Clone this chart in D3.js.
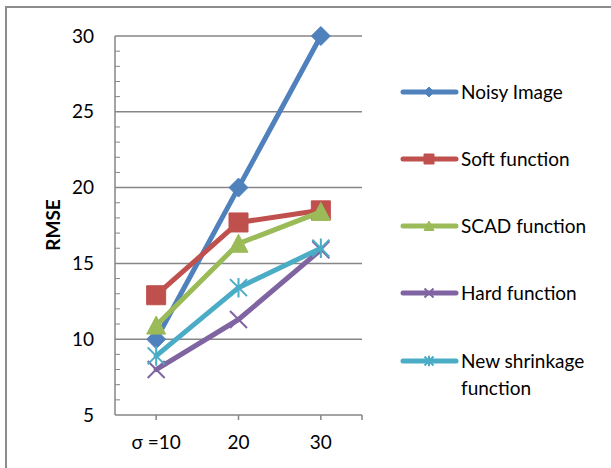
<!DOCTYPE html>
<html>
<head>
<meta charset="utf-8">
<script src="https://cdn.jsdelivr.net/npm/d3@7"></script>
<style>
  html, body { margin: 0; padding: 0; background: #fff; }
  svg { display: block; }
  text { font-family: Lato, "Open Sans", sans-serif; fill: #000; }
</style>
</head>
<body>
<svg id="chart" width="611" height="468"></svg>
<script>
// Noise levels on the x axis
const categories = ["σ =10", "20", "30"];

// RMSE per denoising method
const noisyImage = [10, 20, 30];
const softFunction = [12.9, 17.7, 18.5];
const scadFunction = [10.9, 16.3, 18.4];
const hardFunction = [8.0, 11.3, 15.9];
const newShrinkage = [8.9, 13.4, 16.0];

const seriesNames = ["Noisy Image", "Soft function", "SCAD function", "Hard function", "New shrinkage function"];
const yTicks = [5, 10, 15, 20, 25, 30];

const series = [
  { name: seriesNames[0], values: noisyImage, color: "#4F81BD", marker: "diamond" },
  { name: seriesNames[1], values: softFunction, color: "#C0504D", marker: "square" },
  { name: seriesNames[2], values: scadFunction, color: "#9BBB59", marker: "triangle" },
  { name: seriesNames[3], values: hardFunction, color: "#8064A2", marker: "x" },
  { name: seriesNames[4], values: newShrinkage, color: "#4BACC6", marker: "star" }
];

const svg = d3.select("#chart");

// Outer chart frame
svg.append("path")
  .attr("d", "M6,468 V7 H611")
  .attr("fill", "none")
  .attr("stroke", "#8c8c8c")
  .attr("stroke-width", 2);

const plot = { left: 115, right: 362, top: 36, bottom: 415 };

const x = d3.scaleBand().domain(categories).range([plot.left, plot.right]);
const y = d3.scaleLinear().domain([5, 30]).range([plot.bottom, plot.top]);

const gridColor = "#868686";

// Horizontal gridlines
svg.append("g")
  .selectAll("line")
  .data(yTicks.filter(t => t > 5))
  .join("line")
  .attr("x1", plot.left).attr("x2", plot.right)
  .attr("y1", d => y(d)).attr("y2", d => y(d))
  .attr("stroke", gridColor).attr("stroke-width", 1.5);

// Minor ticks along the y axis (every 1 unit), pointing inward
svg.append("g")
  .selectAll("line")
  .data(d3.range(6, 30).filter(v => v % 5 !== 0))
  .join("line")
  .attr("x1", plot.left).attr("x2", plot.left + 5)
  .attr("y1", d => y(d)).attr("y2", d => y(d))
  .attr("stroke", gridColor).attr("stroke-width", 1);

// Y axis line
svg.append("line")
  .attr("x1", plot.left).attr("x2", plot.left)
  .attr("y1", plot.top).attr("y2", plot.bottom)
  .attr("stroke", gridColor).attr("stroke-width", 1.5);

// X axis line
svg.append("line")
  .attr("x1", plot.left).attr("x2", plot.right)
  .attr("y1", plot.bottom).attr("y2", plot.bottom)
  .attr("stroke", gridColor).attr("stroke-width", 1.5);

// X tick marks at category centres and the right end
const xTickPos = categories.map(c => x(c) + x.bandwidth() / 2).concat([plot.right]);
svg.append("g")
  .selectAll("line")
  .data(xTickPos)
  .join("line")
  .attr("x1", d => d).attr("x2", d => d)
  .attr("y1", plot.bottom).attr("y2", plot.bottom + 5)
  .attr("stroke", gridColor).attr("stroke-width", 1.5);

// Y tick labels
svg.append("g")
  .selectAll("text")
  .data(yTicks)
  .join("text")
  .attr("x", 94)
  .attr("y", d => y(d))
  .attr("dy", "0.35em")
  .attr("text-anchor", "end")
  .style("font-size", "19px")
  .text(d => d);

// X tick labels
svg.append("g")
  .selectAll("text")
  .data(categories)
  .join("text")
  .attr("x", d => x(d) + x.bandwidth() / 2)
  .attr("y", 449)
  .attr("text-anchor", "middle")
  .style("font-size", "19px")
  .text(d => d);

// Y axis title
svg.append("text")
  .attr("transform", "translate(60,225) rotate(-90)")
  .attr("text-anchor", "middle")
  .style("font-size", "19px")
  .style("font-weight", "bold")
  .text("RMSE");

// Marker shapes
function markerPath(type, s) {
  const h = s / 2;
  switch (type) {
    case "diamond": return `M0,${-h}L${h},0L0,${h}L${-h},0Z`;
    case "square": return `M${-h},${-h}H${h}V${h}H${-h}Z`;
    case "triangle": return `M0,${-h}L${h},${h * 0.9}H${-h}Z`;
    case "x": return `M${-h},${-h}L${h},${h}M${h},${-h}L${-h},${h}`;
    case "star": return `M${-h},${-h}L${h},${h}M${h},${-h}L${-h},${h}M0,${-h * 1.15}V${h * 1.15}`;
  }
}

function drawMarker(g, type, color, s) {
  const filled = type === "diamond" || type === "square" || type === "triangle";
  g.append("path")
    .attr("d", markerPath(type, s))
    .attr("fill", filled ? color : "none")
    .attr("stroke", color)
    .attr("stroke-width", filled ? 1 : 2);
}

const line = d3.line()
  .x((d, i) => x(categories[i]) + x.bandwidth() / 2)
  .y(d => y(d));

const markerSize = { diamond: 19, square: 19, triangle: 19, x: 17, star: 17 };

series.forEach(s => {
  const g = svg.append("g");
  g.append("path")
    .attr("d", line(s.values))
    .attr("fill", "none")
    .attr("stroke", s.color)
    .attr("stroke-width", 5)
    .attr("stroke-linejoin", "round")
    .attr("stroke-linecap", "round");
  s.values.forEach((v, i) => {
    const m = g.append("g")
      .attr("transform", `translate(${x(categories[i]) + x.bandwidth() / 2},${y(v)})`);
    drawMarker(m, s.marker, s.color, markerSize[s.marker]);
  });
});

// Legend
const legendRows = [92, 159, 226, 293, 361];
const legend = svg.append("g");
series.forEach((s, i) => {
  const yy = legendRows[i];
  const g = legend.append("g");
  g.append("line")
    .attr("x1", 403).attr("x2", 456)
    .attr("y1", yy).attr("y2", yy)
    .attr("stroke", s.color).attr("stroke-width", 5)
    .attr("stroke-linecap", "round");
  const m = g.append("g").attr("transform", `translate(429,${yy})`);
  drawMarker(m, s.marker, s.color, s.marker === "x" || s.marker === "star" ? 9 : 10);
  const words = s.name === "New shrinkage function" ? ["New shrinkage", "function"] : [s.name];
  words.forEach((w, k) => {
    g.append("text")
      .attr("x", 461)
      .attr("y", yy + k * 27)
      .attr("dy", "0.35em")
      .style("font-size", "19px")
      .text(w);
  });
});
</script>
</body>
</html>
